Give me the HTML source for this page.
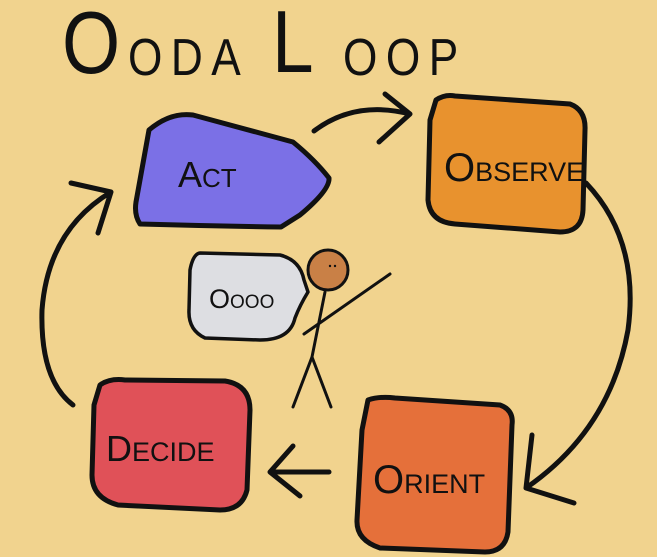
<!DOCTYPE html>
<html><head><meta charset="utf-8"><style>
html,body{margin:0;padding:0;background:#F1D38E;}
svg{display:block}
text{font-family:"Liberation Sans",sans-serif;fill:#111;}
</style></head><body>
<svg width="657" height="557" viewBox="0 0 657 557">
<rect width="657" height="557" fill="#F1D38E"/>
<!-- title -->
<text x="62" y="73" font-size="88" transform="scale(0.85,1)" transform-origin="62 73">O</text>
<text x="128" y="75" font-size="52" letter-spacing="10" transform="scale(0.85,1)" transform-origin="128 75">ODA</text>
<text x="272" y="72" font-size="88" transform="scale(0.85,1)" transform-origin="272 72">L</text>
<text x="343" y="75" font-size="52" letter-spacing="10" transform="scale(0.85,1)" transform-origin="343 75">OOP</text>

<g stroke="#111" stroke-width="5" stroke-linejoin="round" stroke-linecap="round">
<path d="M149,130 Q170,112 193,115 L293,142 Q315,160 329,178 Q330,190 300,215 L281,227 Q210,226 140,224 Q134,215 136,202 Z" fill="#7B70E6"/>
<path d="M436,100 Q445,94 455,96 L570,104 Q586,110 585,130 L583,210 Q582,232 560,232 L455,224 Q430,222 428,200 L430,120 Z" fill="#E8922E"/>
<path d="M368,400 Q380,396 395,398 L500,405 Q514,410 512,425 L508,532 Q505,552 485,552 L380,548 Q356,540 357,520 L362,430 Z" fill="#E5703A"/>
<path d="M100,385 Q110,378 125,380 L225,381 Q250,385 250,410 L247,490 Q242,510 220,510 L118,505 Q92,498 92,475 L94,405 Z" fill="#E05158"/>
<path d="M200,253 L280,255 Q300,260 304,280 L308,292 Q300,305 295,318 Q290,340 260,340 L205,338 Q188,330 189,310 L190,270 Q193,254 200,253 Z" fill="#DDDEE2" stroke-width="3.5"/>
<circle cx="328" cy="270" r="20" fill="#C98046" stroke-width="3"/>
<g fill="none" stroke-width="3">
<path d="M325,292 L312,357 L293,407 M312,357 L331,407 M304,334 L390,274"/>
</g>
<g fill="none" stroke-width="5">
<path d="M314,131 Q355,100 410,114 M385,94 L410,114 L379,142"/>
<path d="M586,183 Q640,240 628,330 Q610,430 526,488 M532,435 L526,488 L574,503"/>
<path d="M329,472 L270,472 M293,446 L270,472 L300,496"/>
<path d="M73,405 Q40,380 42,310 Q48,230 111,192 M71,183 L111,192 L98,233"/>
</g>
</g>
<g fill="#111" stroke="none">
<circle cx="330" cy="266" r="1.2"/><circle cx="335" cy="266" r="1.2"/>
</g>
<text x="178" y="187" font-size="36">A<tspan font-size="26">CT</tspan></text>
<text x="444" y="181" font-size="40">O<tspan font-size="27">BSERVE</tspan></text>
<text x="373" y="493" font-size="40">O<tspan font-size="27">RIENT</tspan></text>
<text x="106" y="461" font-size="36">D<tspan font-size="27">ECIDE</tspan></text>
<text x="209" y="308" font-size="27">O<tspan font-size="19">OOO</tspan></text>
</svg>
</body></html>
